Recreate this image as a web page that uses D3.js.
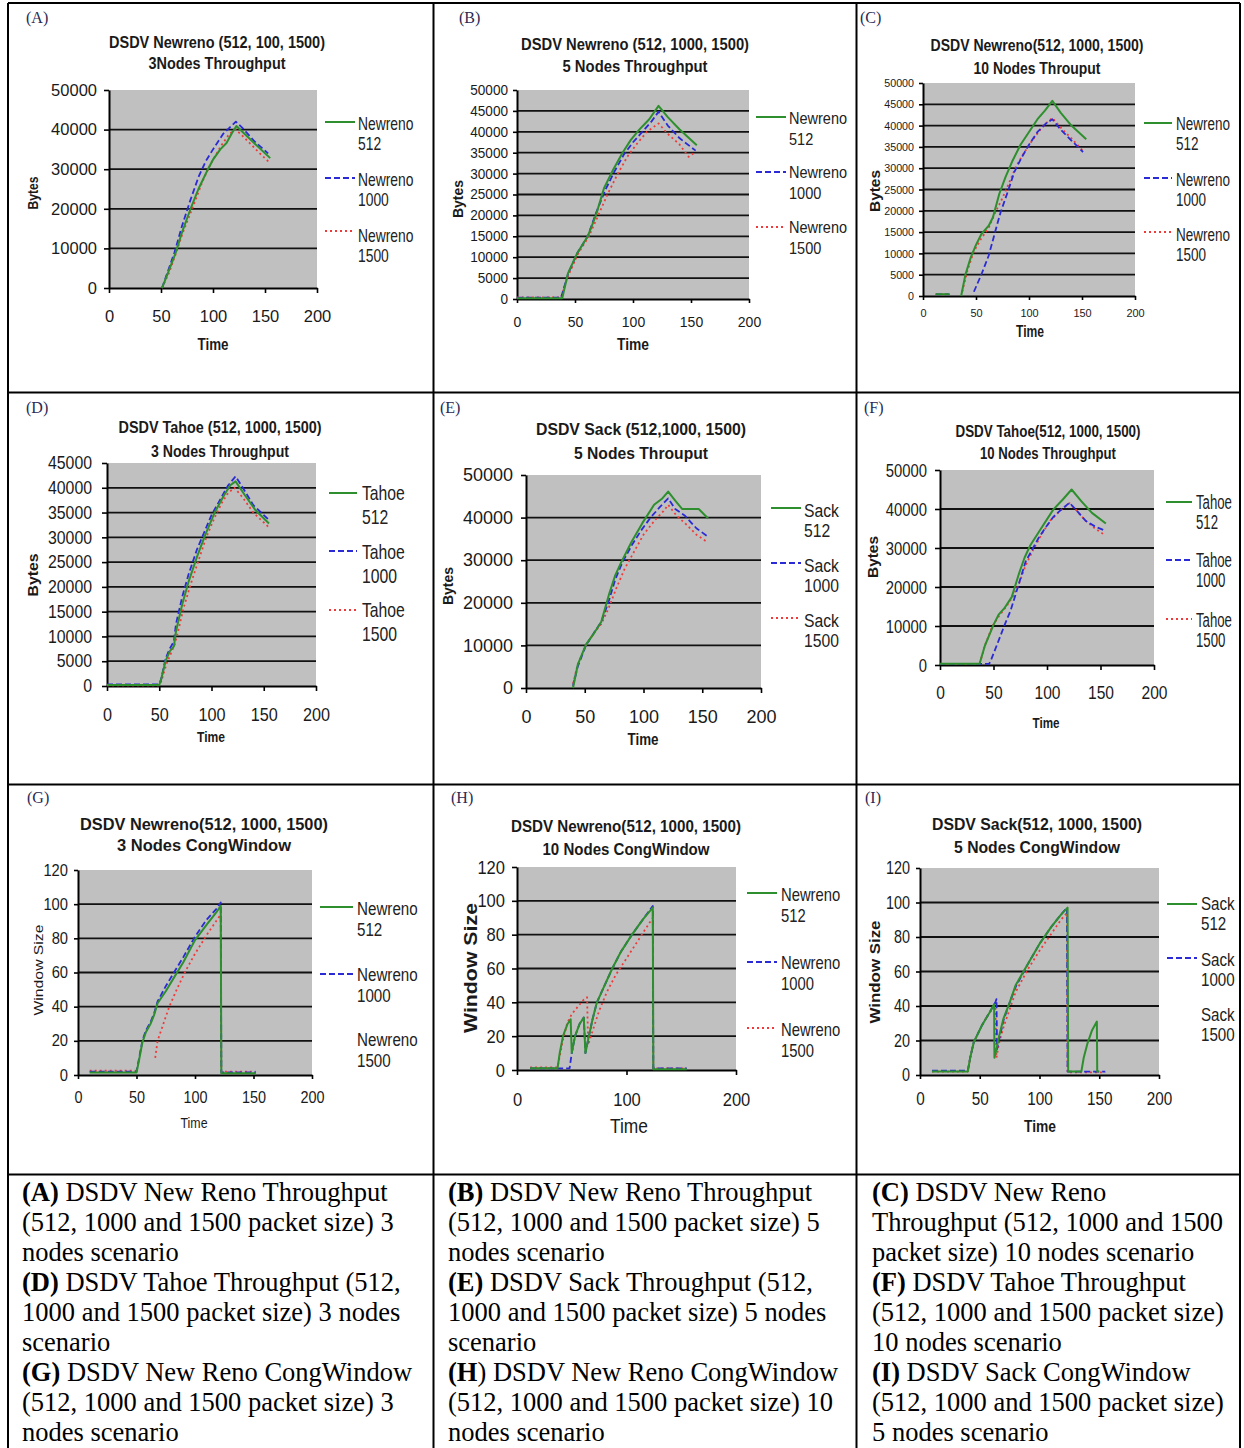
<!DOCTYPE html>
<html>
<head>
<meta charset="utf-8">
<script src="https://cdn.jsdelivr.net/npm/d3@7"></script>
<style>
  html, body { margin: 0; padding: 0; background: #fff; }
  svg { display: block; }
</style>
</head>
<body>
<svg id="fig" width="1244" height="1448"></svg>
<script>
// ---------------- DATA ----------------
const timeTicks50 = [0, 50, 100, 150, 200];
const timeTicks100 = [0, 100, 200];
const bytesTicks10k = [0, 10000, 20000, 30000, 40000, 50000];
const bytesTicks5k = [0, 5000, 10000, 15000, 20000, 25000, 30000, 35000, 40000, 45000, 50000];
const bytesTicks45k = [0, 5000, 10000, 15000, 20000, 25000, 30000, 35000, 40000, 45000];
const windowTicks = [0, 20, 40, 60, 80, 100, 120];

const legendNewreno = [["Newreno", "512"], ["Newreno", "1000"], ["Newreno", "1500"]];
const legendTahoe = [["Tahoe", "512"], ["Tahoe", "1000"], ["Tahoe", "1500"]];
const legendSack = [["Sack", "512"], ["Sack", "1000"], ["Sack", "1500"]];

// (A) Newreno 3 nodes throughput
const aNewreno512 = [[51,0],[57,4000],[64,8800],[70,13900],[78,19700],[86,25000],[94,29400],[100,32400],[107,35000],[113,36600],[118,39000],[122.5,40900],[130,39000],[140,36500],[155,32800]];
const aNewreno1000 = [[51,0],[57,4500],[63,9000],[70,15500],[78,22000],[86,28000],[93,32000],[100,35000],[110,39000],[118,41000],[122,42000],[128,40500],[140,37000],[153,34000]];
const aNewreno1500 = [[51,0],[58,4000],[64,8500],[71,14000],[80,20000],[90,27000],[98,31500],[108,36000],[116,39000],[122,40000],[130,38000],[145,34000],[155,31500]];

// (B) Newreno 5 nodes throughput
const bNewreno512 = [[0,200],[39,200],[44,6200],[52,11000],[61,15000],[68,20000],[75,26500],[83,31000],[91,35000],[98,38000],[105,40400],[114,43000],[122,46200],[130,43500],[140,40600],[155,36800]];
const bNewreno1000 = [[0,300],[38,300],[44,6000],[52,11000],[61,15000],[68,20500],[76,26000],[84,30500],[92,34500],[100,37500],[108,40000],[116,42500],[122,44800],[130,41500],[140,38500],[154,35500]];
const bNewreno1500 = [[0,400],[38,400],[44,5500],[53,11000],[62,15000],[70,20000],[78,25000],[86,29500],[95,34000],[103,37000],[112,40000],[122,42000],[130,39500],[140,37000],[148,34000],[153,35000]];

// (C) Newreno 10 nodes throughput
const cNewreno512 = [[12,400],[25,400],null,[36,0],[40,5000],[45,9000],[50,12000],[55,14500],[62,16500],[66,18500],[72,24000],[78,28000],[84,31500],[92,35500],[100,38500],[108,41500],[115,43500],[122,45800],[130,43000],[140,40000],[154,36800]];
const cNewreno1000 = [[12,400],[25,400],null,[48,1000],[55,5000],[62,9500],[68,15000],[73,19500],[80,24500],[86,29000],[93,32500],[100,35500],[108,38500],[116,40500],[122,41500],[130,39000],[140,36500],[151,33800]];
const cNewreno1500 = [[12,400],[25,400],null,[37,1000],[42,6000],[48,10500],[55,13500],[62,16000],[68,19500],[75,23000],[82,27000],[88,30500],[95,33500],[103,36500],[112,39500],[118,41000],[122,41800],[130,39500],[140,37000],[152,33800]];

// (D) Tahoe 3 nodes throughput
const dTahoe512 = [[0,200],[50,200],[52,1500],[56,5000],[60,7000],[64,8000],[66,11000],[72,16500],[78,21000],[86,26000],[94,30500],[103,35000],[112,38500],[118,40500],[123,41300],[132,38500],[142,35500],[155,32800]];
const dTahoe1000 = [[0,300],[50,300],[52,1500],[56,5500],[60,7500],[64,9000],[66,12500],[72,18000],[78,22500],[86,27500],[93,31000],[100,34500],[108,37500],[116,40500],[123,42300],[130,40000],[140,36500],[155,33500]];
const dTahoe1500 = [[0,150],[50,150],[52,1000],[57,4500],[61,6500],[65,8500],[68,11000],[73,15500],[80,20500],[87,25000],[95,30000],[103,34000],[110,37000],[116,39000],[122,40000],[130,38000],[140,35000],[155,32000]];

// (E) Sack 5 nodes throughput
const eSack512 = [[40,0],[44,5400],[51,10200],[58,12900],[64,15500],[71,22300],[76,26500],[81,29500],[90,34400],[99,38700],[109,43000],[116,44500],[121,46100],[127,44000],[133,42000],[147,42000],[155,39800]];
const eSack1000 = [[40,500],[44,5000],[51,10000],[58,13000],[64,15500],[70,20000],[76,25500],[82,29500],[90,33500],[98,37000],[106,40000],[114,42500],[121,44500],[127,42000],[135,40500],[145,37500],[155,35500]];
const eSack1500 = [[40,1000],[44,5500],[51,10000],[58,13000],[64,15000],[70,18500],[77,23500],[84,28000],[92,32000],[100,36000],[110,39500],[117,41500],[121,43000],[128,40500],[136,38500],[145,36000],[153,34500]];

// (F) Tahoe 10 nodes throughput
const fTahoe512 = [[0,300],[37,300],[42,5000],[50,10300],[55,13000],[60,14500],[67,17400],[74,23600],[79,27500],[84,30500],[94,34800],[106,39900],[115,42500],[123,45000],[132,42000],[142,39000],[155,36300]];
const fTahoe1000 = [[0,300],[46,300],[48,1500],[53,5000],[60,10000],[66,14000],[70,17500],[75,22000],[80,26500],[86,29500],[92,32500],[98,35000],[106,38000],[114,40000],[121,41600],[128,39500],[136,37000],[145,35500],[154,34500]];
const fTahoe1500 = [[0,300],[37,300],[42,5000],[49,10000],[55,12500],[62,15000],[68,17500],[74,21000],[80,25500],[87,29500],[95,33500],[103,37000],[112,39500],[121,41500],[128,39500],[136,37000],[145,35000],[153,33500]];

// (G) Newreno 3 nodes congestion window
const gNewreno512 = [[10,1.5],[50,1.5],[52,8],[55,19],[58,25],[62,30],[65,35],[68,42],[75,49],[82,57],[90,66],[100,79],[110,88],[118,95],[122,99],[122.5,1],[152,1]];
const gNewreno1000 = [[10,2],[50,2],[52,9],[55,20],[58,26],[62,31],[65,36],[68,43],[75,52],[82,60],[90,69],[100,81],[110,91],[118,97],[122,101],[122.5,1.5],[152,1.5]];
const gNewreno1500 = [[10,2.5],[50,2.5],null,[66,10],[68,20],[72,28],[78,40],[85,51],[92,61],[100,71],[110,82],[118,90],[122,94],[122.5,2],[152,2]];

// (H) Newreno 10 nodes congestion window
const hNewreno512 = [[12,1],[37,1],[39,10],[42,20],[46,27],[49,30],[50,10],[53,20],[57,27],[61,31],[62.5,10],[65,18],[69,30],[73,40],[80,50],[87,60],[95,70],[105,80],[115,89],[124,96],[124.5,0.5],[155,0.5]];
const hNewreno1000 = [[12,1],[48,1],[50,10],[53,20],[57,27],[61,31],[62.5,10],[65,18],[69,30],[73,40],[80,50],[87,60],[95,70],[105,80],[115,89],[124,97],[124.5,1],[155,1]];
const hNewreno1500 = [[12,1.5],[37,1.5],[39,8],[42,18],[46,28],[50,33],[55,37],[60,41],[64,43],[65,15],[70,25],[75,35],[82,46],[90,56],[100,66],[110,76],[118,84],[124,90],[124.5,1],[155,1]];

// (I) Sack 5 nodes congestion window
const iSack512 = [[10,2],[40,2],[42,10],[45,19],[52,29],[58,36],[62,41],[62.3,10],[64,15],[66,22],[70,33],[75,42],[80,52],[90,64],[100,76],[110,86],[118,93],[123.5,97],[124,2],[135,2],[137,10],[140,18],[144,26],[148,31],[148.3,2],[150,2]];
const iSack1000 = [[10,2.5],[40,2.5],[42,10],[45,19],[52,29],[58,36],[63,42],[64,44],[64.5,15],[66,20],[70,32],[75,42],[80,51],[90,64],[100,76],[110,86],[118,93],[123,97],[123.5,2],[155,2]];
const iSack1500 = [[10,2],[40,2],[42,10],[45,19],[52,29],[58,36],[63,40],[64,10],[66,18],[70,28],[75,38],[80,48],[90,61],[100,72],[110,82],[118,90],[123,94],[123.5,1.5],[155,1.5]];

// Captions
const captionCol1 = [["(A)", " DSDV New Reno Throughput"], ["", "(512, 1000 and 1500 packet size) 3"], ["", "nodes scenario"],
  ["(D)", " DSDV Tahoe Throughput (512,"], ["", "1000 and 1500 packet size) 3 nodes"], ["", "scenario"],
  ["(G)", " DSDV New Reno CongWindow"], ["", "(512, 1000 and 1500 packet size) 3"], ["", "nodes scenario"]];
const captionCol2 = [["(B)", " DSDV New Reno Throughput"], ["", "(512, 1000 and 1500 packet size) 5"], ["", "nodes scenario"],
  ["(E)", " DSDV Sack Throughput (512,"], ["", "1000 and 1500 packet size) 5 nodes"], ["", "scenario"],
  ["(H", ") DSDV New Reno CongWindow"], ["", "(512, 1000 and 1500 packet size) 10"], ["", "nodes scenario"]];
const captionCol3 = [["(C)", " DSDV New Reno"], ["", "Throughput (512, 1000 and 1500"], ["", "packet size) 10 nodes scenario"],
  ["(F)", " DSDV Tahoe Throughput"], ["", "(512, 1000 and 1500 packet size)"], ["", "10 nodes scenario"],
  ["(I)", " DSDV Sack CongWindow"], ["", "(512, 1000 and 1500 packet size)"], ["", "5 nodes scenario"]];

// ---------------- LAYOUT / STYLE ----------------
const seriesStyle = [
  { color: "#2d8f2d", width: 2, dash: null },
  { color: "#2a2ad6", width: 1.8, dash: "6,3" },
  { color: "#f03a3a", width: 1.8, dash: "2,3" }
];
const SANS = "'Liberation Sans', Arial, sans-serif";
const SERIF = "'Liberation Serif', 'Times New Roman', serif";

const panels = [
  { label: "(A)", lx: 26, ly: 23,
    title: ["DSDV Newreno (512, 100, 1500)", "3Nodes Throughput"], tx: 217, ty: [48, 69], tw: [216, 137],
    px: [109, 317], py: [90, 288], yMax: 50000, yTicks: bytesTicks10k, xTicks: timeTicks50,
    font: 16.5, yCond: 1, xCond: 1, tick: 5, yPad: 7, xPad: 17,
    ylab: "Bytes", ylx: 33, yly: 193, ylw: 33, yls: 14, ylb: true,
    xlab: "Time", xlx: 213, xly: 350, xlw: 31, xls: 16, xlb: true,
    series: [aNewreno512, aNewreno1000, aNewreno1500], legend: legendNewreno,
    leg: { x1: 325, x2: 355, tx: 358, ly: [122, 178, 231], ty: [123, 179, 235], dy: 20, size: 18, cond: 0.77, show: [1, 1, 1] } },
  { label: "(B)", lx: 459, ly: 23,
    title: ["DSDV Newreno (512, 1000, 1500)", "5 Nodes Throughput"], tx: 635, ty: [50, 72], tw: [228, 145],
    px: [517, 749], py: [90, 299], yMax: 50000, yTicks: bytesTicks5k, xTicks: timeTicks50,
    font: 14, yCond: 0.97, xCond: 1, tick: 4, yPad: 5, xPad: 14,
    ylab: "Bytes", ylx: 457, yly: 199, ylw: 38, yls: 15, ylb: true,
    xlab: "Time", xlx: 633, xly: 350, xlw: 32, xls: 16, xlb: true,
    series: [bNewreno512, bNewreno1000, bNewreno1500], legend: legendNewreno,
    leg: { x1: 756, x2: 786, tx: 789, ly: [117, 172, 227], ty: [118, 172, 227], dy: 21, size: 16.5, cond: 0.88, show: [1, 1, 1] } },
  { label: "(C)", lx: 860, ly: 23,
    title: ["DSDV Newreno(512, 1000, 1500)", "10 Nodes Throuput"], tx: 1037, ty: [51, 74], tw: [213, 127],
    px: [923, 1135], py: [83, 296], yMax: 50000, yTicks: bytesTicks5k, xTicks: timeTicks50,
    font: 11.5, yCond: 0.93, xCond: 0.95, tick: 4, yPad: 5, xPad: 9,
    ylab: "Bytes", ylx: 874, yly: 191, ylw: 42, yls: 15, ylb: true,
    xlab: "Time", xlx: 1030, xly: 337, xlw: 28, xls: 16, xlb: true,
    series: [cNewreno512, cNewreno1000, cNewreno1500], legend: legendNewreno,
    leg: { x1: 1144, x2: 1172, tx: 1176, ly: [123, 178, 232], ty: [123, 179, 234], dy: 20, size: 18.5, cond: 0.73, show: [1, 1, 1] } },
  { label: "(D)", lx: 26, ly: 413,
    title: ["DSDV Tahoe (512, 1000, 1500)", "3 Nodes Throughput"], tx: 220, ty: [433, 457], tw: [203, 138],
    px: [107, 316], py: [463, 686], yMax: 45000, yTicks: bytesTicks45k, xTicks: timeTicks50,
    font: 18, yCond: 0.88, xCond: 0.9, tick: 5, yPad: 10, xPad: 17,
    ylab: "Bytes", ylx: 33, yly: 575, ylw: 43, yls: 14, ylb: true,
    xlab: "Time", xlx: 211, xly: 742, xlw: 28, xls: 15, xlb: true,
    series: [dTahoe512, dTahoe1000, dTahoe1500], legend: legendTahoe,
    leg: { x1: 329, x2: 357, tx: 362, ly: [493, 551, 610], ty: [493, 552, 610], dy: 24, size: 21, cond: 0.75, show: [1, 1, 1] } },
  { label: "(E)", lx: 440, ly: 413,
    title: ["DSDV Sack (512,1000, 1500)", "5 Nodes Throuput"], tx: 641, ty: [435, 459], tw: [210, 134],
    px: [526, 761], py: [475, 688], yMax: 50000, yTicks: bytesTicks10k, xTicks: timeTicks50,
    font: 18, yCond: 1, xCond: 1, tick: 5, yPad: 8, xPad: 17,
    ylab: "Bytes", ylx: 447, yly: 586, ylw: 38, yls: 15, ylb: true,
    xlab: "Time", xlx: 643, xly: 745, xlw: 31, xls: 16, xlb: true,
    series: [eSack512, eSack1000, eSack1500], legend: legendSack,
    leg: { x1: 771, x2: 801, tx: 804, ly: [508, 563, 618], ty: [511, 566, 621], dy: 20, size: 18.5, cond: 0.85, show: [1, 1, 1] } },
  { label: "(F)", lx: 864, ly: 413,
    title: ["DSDV Tahoe(512, 1000, 1500)", "10 Nodes Throughput"], tx: 1048, ty: [437, 459], tw: [185, 136],
    px: [940, 1154], py: [470, 665], yMax: 50000, yTicks: bytesTicks10k, xTicks: timeTicks50,
    font: 19, yCond: 0.78, xCond: 0.82, tick: 5, yPad: 8, xPad: 16,
    ylab: "Bytes", ylx: 873, yly: 557, ylw: 42, yls: 14, ylb: true,
    xlab: "Time", xlx: 1046, xly: 728, xlw: 27, xls: 15, xlb: true,
    series: [fTahoe512, fTahoe1000, fTahoe1500], legend: legendTahoe,
    leg: { x1: 1166, x2: 1192, tx: 1196, ly: [502, 560, 619], ty: [503, 561, 621], dy: 20, size: 20, cond: 0.66, show: [1, 1, 1] } },
  { label: "(G)", lx: 27, ly: 803,
    title: ["DSDV Newreno(512, 1000, 1500)", "3 Nodes CongWindow"], tx: 204, ty: [830, 851], tw: [248, 174],
    px: [78, 312], py: [870, 1075], yMax: 120, yTicks: windowTicks, xTicks: timeTicks50,
    font: 16, yCond: 0.92, xCond: 0.9, tick: 4, yPad: 6, xPad: 13,
    ylab: "Window Size", ylx: 38, yly: 970, ylw: 91, yls: 13, ylb: false,
    xlab: "Time", xlx: 194, xly: 1128, xlw: 27, xls: 14, xlb: false,
    series: [gNewreno512, gNewreno1000, gNewreno1500], legend: legendNewreno,
    leg: { x1: 320, x2: 353, tx: 357, ly: [907, 974, 1040], ty: [909, 975, 1040], dy: 21, size: 18.5, cond: 0.82, show: [1, 1, 0] } },
  { label: "(H)", lx: 451, ly: 803,
    title: ["DSDV Newreno(512, 1000, 1500)", "10 Nodes CongWindow"], tx: 626, ty: [832, 855], tw: [230, 167],
    px: [517, 736], py: [867, 1070], yMax: 120, yTicks: windowTicks, xTicks: timeTicks100,
    font: 19, yCond: 0.87, xCond: 0.87, tick: 5, yPad: 7, xPad: 18,
    ylab: "Window Size", ylx: 471, yly: 968, ylw: 130, yls: 18, ylb: true,
    xlab: "Time", xlx: 629, xly: 1133, xlw: 38, xls: 21, xlb: false,
    series: [hNewreno512, hNewreno1000, hNewreno1500], legend: legendNewreno,
    leg: { x1: 747, x2: 777, tx: 781, ly: [893, 962, 1028], ty: [895, 963, 1030], dy: 21, size: 18.5, cond: 0.8, show: [1, 1, 1] } },
  { label: "(I)", lx: 865, ly: 803,
    title: ["DSDV Sack(512, 1000, 1500)", "5 Nodes CongWindow"], tx: 1037, ty: [830, 853], tw: [210, 166],
    px: [920, 1159], py: [868, 1075], yMax: 120, yTicks: windowTicks, xTicks: timeTicks50,
    font: 18, yCond: 0.8, xCond: 0.85, tick: 4, yPad: 6, xPad: 13,
    ylab: "Window Size", ylx: 875, yly: 972, ylw: 103, yls: 14, ylb: true,
    xlab: "Time", xlx: 1040, xly: 1132, xlw: 32, xls: 17, xlb: true,
    series: [iSack512, iSack1000, iSack1500], legend: legendSack,
    leg: { x1: 1167, x2: 1197, tx: 1201, ly: [904, 958, 1015], ty: [904, 960, 1015], dy: 20, size: 18.5, cond: 0.82, show: [1, 1, 0] } }
];

// ---------------- DRAW ----------------
const svg = d3.select("#fig");
svg.append("rect").attr("width", 1244).attr("height", 1448).attr("fill", "#fff");

function condense(sel, factor) {
  sel.each(function () {
    const L = this.getComputedTextLength();
    if (L > 0) d3.select(this).attr("textLength", L * factor).attr("lengthAdjust", "spacingAndGlyphs");
  });
}

panels.forEach(p => {
  const g = svg.append("g");
  const x = d3.scaleLinear().domain([0, 200]).range(p.px);
  const y = d3.scaleLinear().domain([0, p.yMax]).range([p.py[1], p.py[0]]);

  // panel letter
  g.append("text").attr("x", p.lx).attr("y", p.ly).text(p.label)
    .attr("font-family", SERIF).attr("font-size", 16).attr("fill", "#2a2a55");

  // title
  p.title.forEach((t, i) => {
    g.append("text").attr("x", p.tx).attr("y", p.ty[i]).text(t)
      .attr("text-anchor", "middle").attr("font-family", SANS).attr("font-weight", "bold")
      .attr("font-size", 16).attr("fill", "#1a1a1a")
      .attr("textLength", p.tw[i]).attr("lengthAdjust", "spacingAndGlyphs");
  });

  // plot area
  g.append("rect").attr("x", p.px[0]).attr("y", p.py[0])
    .attr("width", p.px[1] - p.px[0]).attr("height", p.py[1] - p.py[0]).attr("fill", "#c0c0c0");

  // gridlines
  g.selectAll(".grid").data(p.yTicks.filter(v => v > 0 && v < p.yMax)).enter()
    .append("line").attr("x1", p.px[0]).attr("x2", p.px[1])
    .attr("y1", d => y(d)).attr("y2", d => y(d))
    .attr("stroke", "#111").attr("stroke-width", 1.8);

  // axes
  const yAxis = d3.axisLeft(y).tickValues(p.yTicks).tickSize(p.tick).tickSizeOuter(0)
    .tickPadding(p.yPad).tickFormat(d3.format("d"));
  const xAxis = d3.axisBottom(x).tickValues(p.xTicks).tickSize(p.tick).tickSizeOuter(0)
    .tickPadding(p.xPad).tickFormat(d3.format("d"));
  const gy = g.append("g").attr("transform", `translate(${p.px[0]},0)`).call(yAxis);
  const gx = g.append("g").attr("transform", `translate(0,${p.py[1]})`).call(xAxis);
  [gy, gx].forEach(ax => {
    ax.select(".domain").attr("stroke", "#000").attr("stroke-width", 2);
    ax.selectAll(".tick line").attr("stroke", "#000").attr("stroke-width", 1.6);
    ax.selectAll(".tick text").attr("font-family", SANS).attr("font-size", p.font).attr("fill", "#1a1a1a");
  });
  condense(gy.selectAll(".tick text"), p.yCond);
  condense(gx.selectAll(".tick text"), p.xCond);

  // axis titles
  g.append("text").text(p.xlab).attr("x", p.xlx).attr("y", p.xly)
    .attr("text-anchor", "middle").attr("font-family", SANS).attr("font-size", p.xls)
    .attr("font-weight", p.xlb ? "bold" : "normal").attr("fill", "#1a1a1a")
    .attr("textLength", p.xlw).attr("lengthAdjust", "spacingAndGlyphs");
  g.append("text").text(p.ylab)
    .attr("transform", `translate(${p.ylx},${p.yly}) rotate(-90)`)
    .attr("text-anchor", "middle").attr("dominant-baseline", "central")
    .attr("font-family", SANS).attr("font-size", p.yls)
    .attr("font-weight", p.ylb ? "bold" : "normal").attr("fill", "#1a1a1a")
    .attr("textLength", p.ylw).attr("lengthAdjust", "spacingAndGlyphs");

  // series
  const line = d3.line().defined(d => d != null).x(d => x(d[0])).y(d => y(d[1]));
  [2, 1, 0].forEach(si => {
    const st = seriesStyle[si];
    g.append("path").datum(p.series[si]).attr("d", line)
      .attr("fill", "none").attr("stroke", st.color).attr("stroke-width", st.width)
      .attr("stroke-dasharray", st.dash).attr("stroke-linejoin", "round");
  });

  // legend (condensed horizontally with a scale transform)
  p.legend.forEach((lab, i) => {
    const L = p.leg;
    if (L.show[i]) {
      const st = seriesStyle[i];
      g.append("line").attr("x1", L.x1).attr("x2", L.x2).attr("y1", L.ly[i]).attr("y2", L.ly[i])
        .attr("stroke", st.color).attr("stroke-width", st.width).attr("stroke-dasharray", st.dash);
    }
    lab.forEach((t, j) => {
      g.append("text").text(t)
        .attr("transform", `translate(${L.tx},${L.ty[i] + j * L.dy}) scale(${L.cond},1)`)
        .attr("dominant-baseline", "central")
        .attr("font-family", SANS).attr("font-size", L.size).attr("fill", "#222");
    });
  });
});

// table grid
const tbl = svg.append("g").attr("stroke", "#000").attr("stroke-width", 2).attr("fill", "none");
[[8, 3, 1240, 3], [8, 3, 8, 1448], [1240, 3, 1240, 1448], [433.5, 3, 433.5, 1448], [856.5, 3, 856.5, 1448],
 [8, 392.5, 1240, 392.5], [8, 784.5, 1240, 784.5], [8, 1174.5, 1240, 1174.5]].forEach(c => {
  tbl.append("line").attr("x1", c[0]).attr("y1", c[1]).attr("x2", c[2]).attr("y2", c[3]);
});

// captions
const capBase = 1201, capStep = 30;
[[captionCol1, 22], [captionCol2, 448], [captionCol3, 872]].forEach(([lines, cx]) => {
  lines.forEach((ln, i) => {
    const t = svg.append("text").attr("x", cx).attr("y", capBase + i * capStep)
      .attr("font-family", SERIF).attr("font-size", 26.5).attr("fill", "#000");
    if (ln[0]) t.append("tspan").attr("font-weight", "bold").text(ln[0]);
    t.append("tspan").text(ln[1]);
  });
});
</script>
</body>
</html>
